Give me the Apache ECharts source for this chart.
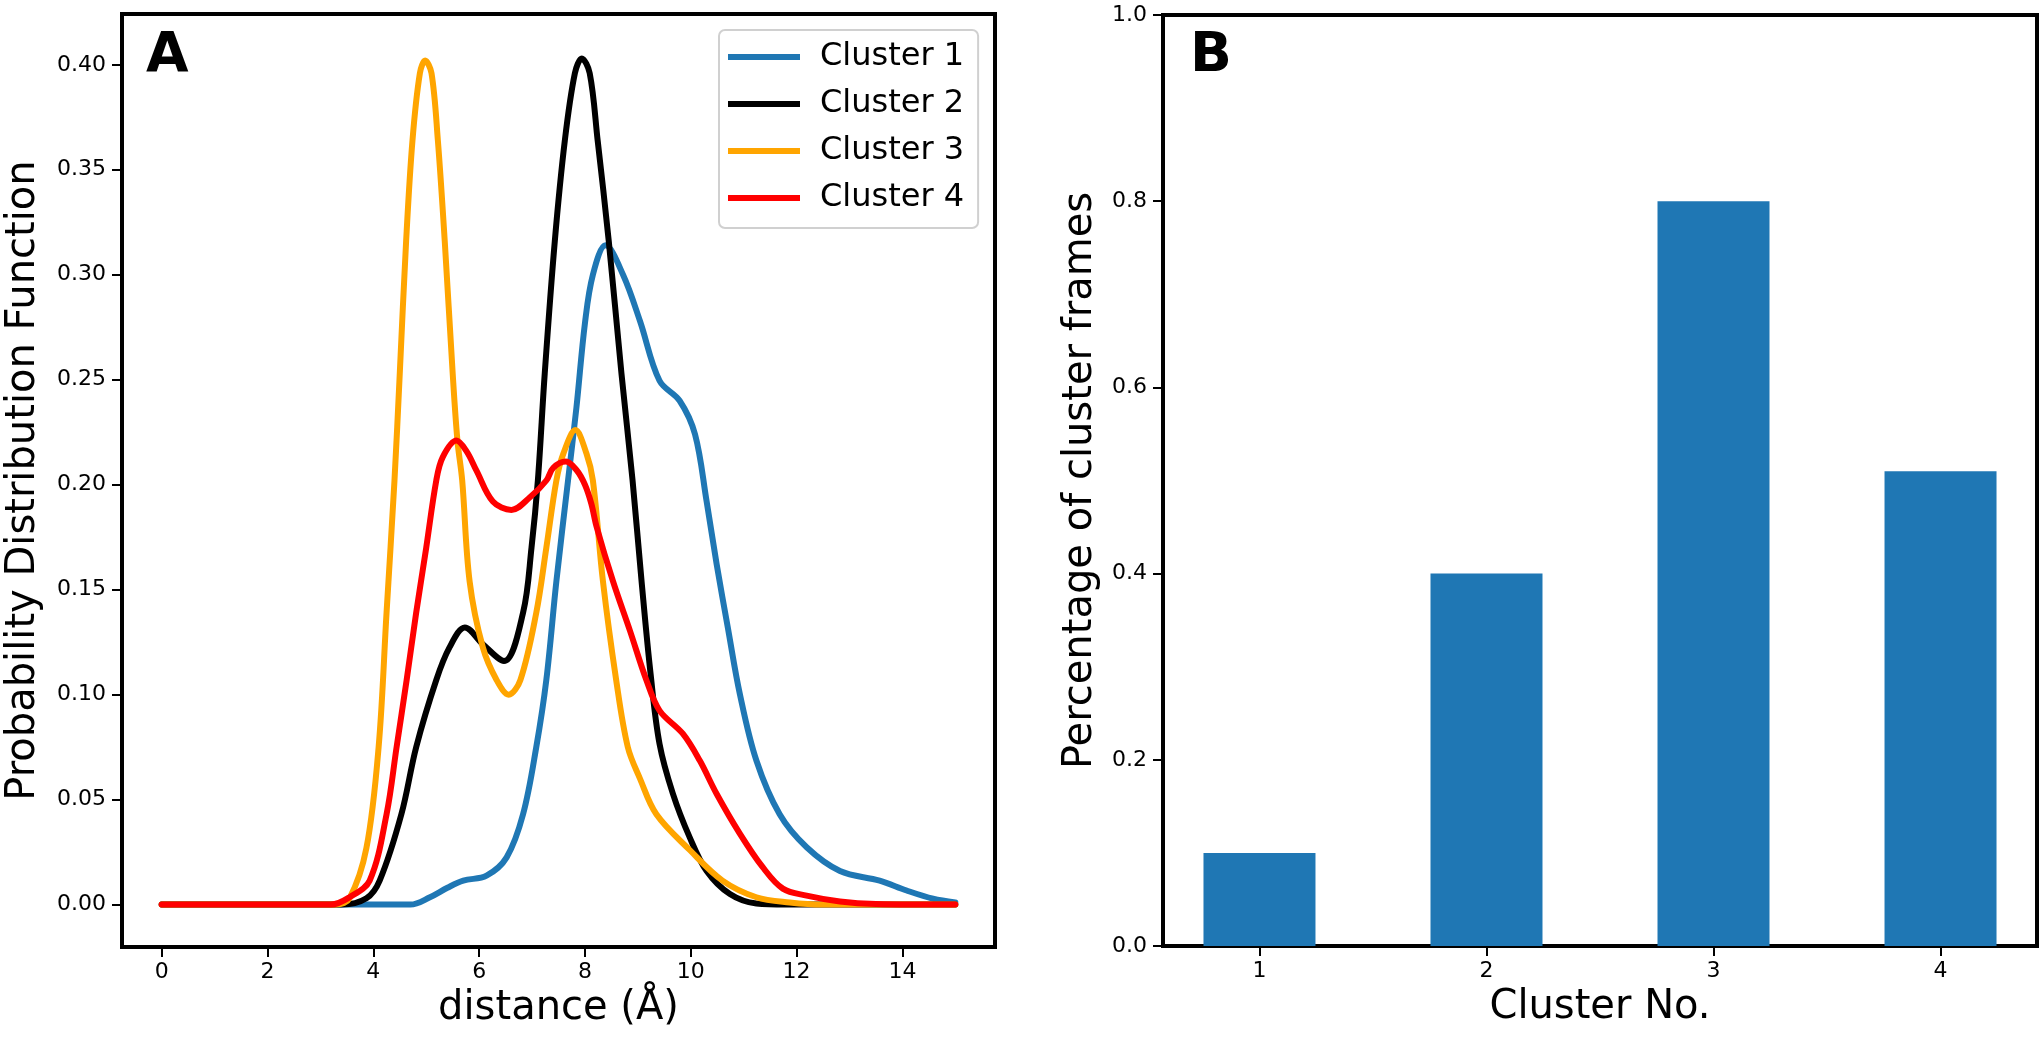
<!DOCTYPE html>
<html>
<head>
<meta charset="utf-8">
<script src="https://cdn.jsdelivr.net/npm/echarts@6/dist/echarts.min.js"></script>
<style>
  html, body { margin: 0; padding: 0; background: #fff; }
  #chart { width: 2040px; height: 1037px; }
</style>
</head>
<body>
<div id="chart"></div>
<script>
// panel A: probability distribution of distance
const cluster1X = [0, 4.7, 5.07, 5.4, 5.7, 6.14, 6.52, 6.83, 7.08, 7.27, 7.46, 7.68, 7.84, 8.0, 8.15, 8.39, 8.72, 9.04, 9.41, 9.79, 10.08, 10.3, 10.49, 10.7, 10.93, 11.24, 11.68, 12.19, 12.82, 13.57, 14.08, 14.58, 15];
const cluster1Y = [0, 0, 0.0035, 0.008, 0.0114, 0.0138, 0.0225, 0.043, 0.075, 0.107, 0.154, 0.202, 0.237, 0.277, 0.300, 0.314, 0.300, 0.278, 0.2495, 0.240, 0.224, 0.192, 0.162, 0.132, 0.100, 0.0686, 0.043, 0.0273, 0.016, 0.0114, 0.0067, 0.0028, 0.001];

const cluster2X = [0, 3.4, 3.87, 4.12, 4.53, 4.81, 5.19, 5.44, 5.73, 6.07, 6.47, 6.83, 6.99, 7.11, 7.24, 7.43, 7.62, 7.81, 7.94, 8.09, 8.24, 8.45, 8.69, 8.9, 9.07, 9.24, 9.41, 9.66, 9.98, 10.3, 10.74, 11.24, 11.8, 15];
const cluster2Y = [0, 0, 0.003, 0.0114, 0.043, 0.075, 0.107, 0.1225, 0.132, 0.124, 0.116, 0.139, 0.170, 0.202, 0.253, 0.316, 0.364, 0.396, 0.403, 0.396, 0.364, 0.316, 0.253, 0.202, 0.154, 0.110, 0.0765, 0.053, 0.032, 0.016, 0.005, 0.0005, 0, 0];

const cluster3X = [0, 3.3, 3.55, 3.87, 4.1, 4.25, 4.4, 4.5, 4.62, 4.74, 4.88, 4.98, 5.1, 5.22, 5.35, 5.5, 5.59, 5.68, 5.82, 6.07, 6.33, 6.56, 6.78, 7.08, 7.27, 7.46, 7.59, 7.82, 8.03, 8.15, 8.34, 8.59, 8.81, 9.04, 9.35, 9.98, 10.6, 11.24, 11.87, 12.5, 15];
const cluster3Y = [0, 0, 0.003, 0.027, 0.075, 0.139, 0.202, 0.253, 0.316, 0.364, 0.396, 0.402, 0.396, 0.364, 0.316, 0.253, 0.221, 0.202, 0.154, 0.1225, 0.107, 0.100, 0.107, 0.139, 0.170, 0.202, 0.2147, 0.226, 0.2147, 0.202, 0.154, 0.107, 0.075, 0.060, 0.043, 0.026, 0.0114, 0.0035, 0.001, 0, 0];

const cluster4X = [0, 3.2, 3.55, 3.93, 4.25, 4.44, 4.63, 4.81, 5.0, 5.19, 5.31, 5.57, 5.76, 5.95, 6.26, 6.61, 6.96, 7.27, 7.4, 7.64, 7.84, 8.0, 8.12, 8.22, 8.53, 8.85, 9.16, 9.41, 9.85, 10.17, 10.49, 10.93, 11.36, 11.74, 12.19, 12.82, 13.5, 15];
const cluster4Y = [0, 0, 0.0035, 0.0114, 0.043, 0.075, 0.107, 0.139, 0.170, 0.202, 0.213, 0.221, 0.216, 0.2067, 0.192, 0.188, 0.194, 0.202, 0.208, 0.211, 0.207, 0.200, 0.191, 0.180, 0.154, 0.1305, 0.107, 0.0924, 0.0814, 0.0686, 0.0527, 0.0337, 0.0178, 0.0076, 0.0043, 0.0015, 0.0003, 0];

const seriesNames = ["Cluster 1", "Cluster 2", "Cluster 3", "Cluster 4"];
const seriesColors = ["#1f77b4", "#000000", "#ffa500", "#ff0000"];

const distanceTicks = [0, 2, 4, 6, 8, 10, 12, 14];
const pdfTicks = [0, 0.05, 0.1, 0.15, 0.2, 0.25, 0.3, 0.35, 0.4];

// panel B: share of frames per cluster
const clusterNo = [1, 2, 3, 4];
const framePct = [0.1, 0.4, 0.8, 0.51];

const FONT = "DejaVu Sans";
const pairs = (xs, ys) => xs.map((x, i) => [x, ys[i]]);
const curves = [
  pairs(cluster1X, cluster1Y),
  pairs(cluster2X, cluster2Y),
  pairs(cluster3X, cluster3Y),
  pairs(cluster4X, cluster4Y)
];

const tickStyle = { show: true, inside: false, length: 10, lineStyle: { color: "#000", width: 2 } };
const labelStyle = { color: "#000", fontSize: 22, fontFamily: FONT };
const nameStyle = { color: "#000", fontSize: 40, fontFamily: FONT };
const spine = { show: true, onZero: false, lineStyle: { color: "#000", width: 4 } };

const chart = echarts.init(document.getElementById("chart"));

chart.setOption({
  animation: false,
  backgroundColor: "#fff",
  grid: [
    { left: 122, top: 14, width: 873, height: 933, show: true, borderColor: "#000", borderWidth: 4 },
    { left: 1163, top: 15, width: 874, height: 931, show: true, borderColor: "#000", borderWidth: 4 }
  ],
  xAxis: [
    {
      gridIndex: 0, type: "value", min: -0.75, max: 15.75,
      name: "distance (Å)", nameLocation: "middle", nameGap: 42, nameTextStyle: nameStyle,
      axisLine: spine, splitLine: { show: false },
      axisTick: Object.assign({ customValues: distanceTicks }, tickStyle),
      axisLabel: Object.assign({ customValues: distanceTicks, margin: 14 }, labelStyle)
    },
    {
      gridIndex: 1, type: "value", min: 0.575, max: 4.425,
      name: "Cluster No.", nameLocation: "middle", nameGap: 42, nameTextStyle: nameStyle,
      axisLine: spine, splitLine: { show: false },
      axisTick: Object.assign({ customValues: clusterNo }, tickStyle),
      axisLabel: Object.assign({ customValues: clusterNo, margin: 14 }, labelStyle)
    }
  ],
  yAxis: [
    {
      gridIndex: 0, type: "value", min: -0.0202, max: 0.4242,
      name: "Probability Distribution Function", nameLocation: "middle", nameGap: 78, nameTextStyle: nameStyle,
      axisLine: spine, splitLine: { show: false },
      axisTick: Object.assign({ customValues: pdfTicks }, tickStyle),
      axisLabel: Object.assign({ customValues: pdfTicks, margin: 16, formatter: v => v.toFixed(2) }, labelStyle)
    },
    {
      gridIndex: 1, type: "value", min: 0, max: 1, interval: 0.2,
      name: "Percentage of cluster frames", nameLocation: "middle", nameGap: 62, nameTextStyle: nameStyle,
      axisLine: spine, splitLine: { show: false },
      axisTick: tickStyle,
      axisLabel: Object.assign({ margin: 16, formatter: v => v.toFixed(1) }, labelStyle)
    }
  ],
  legend: {
    data: seriesNames,
    left: 719, top: 30,
    orient: "vertical",
    icon: "rect",
    itemWidth: 72, itemHeight: 6, itemGap: 15,
    padding: [11, 14, 14, 9],
    backgroundColor: "rgba(255,255,255,0.8)",
    borderColor: "#d0d0d0", borderWidth: 2, borderRadius: 6,
    textStyle: { color: "#000", fontSize: 32, fontFamily: FONT, padding: [0, 0, 0, 15] }
  },
  graphic: [
    { type: "text", x: 146, y: 57, style: { text: "A", font: "bold 55px " + FONT, fill: "#000", align: "left", verticalAlign: "middle" } },
    { type: "text", x: 1190, y: 57, style: { text: "B", font: "bold 55px " + FONT, fill: "#000", align: "left", verticalAlign: "middle" } }
  ],
  series: curves.map((data, i) => ({
    name: seriesNames[i],
    type: "line",
    xAxisIndex: 0, yAxisIndex: 0,
    data: data,
    showSymbol: false,
    smooth: 0.35,
    color: seriesColors[i],
    lineStyle: { width: 6, color: seriesColors[i], join: "round", cap: "round" }
  })).concat([{
    type: "bar",
    xAxisIndex: 1, yAxisIndex: 1,
    data: pairs(clusterNo, framePct),
    barWidth: 112,
    itemStyle: { color: "#1f77b4" }
  }])
});
</script>
</body>
</html>
